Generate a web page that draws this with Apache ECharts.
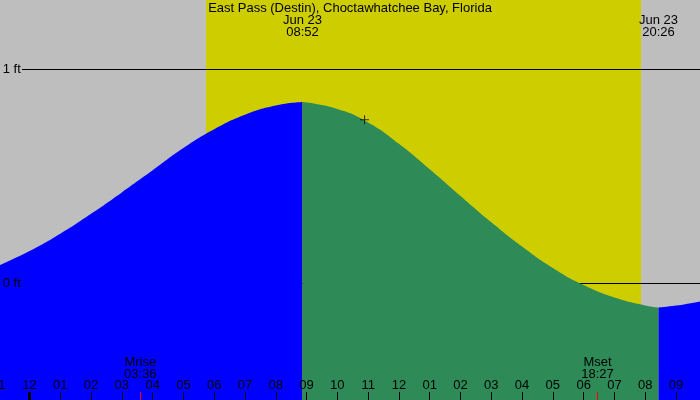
<!DOCTYPE html>
<html><head><meta charset="utf-8">
<script src="https://cdn.jsdelivr.net/npm/echarts@6/dist/echarts.min.js"></script>
<style>html,body{margin:0;padding:0;background:#bebebe}#c{width:700px;height:400px}</style>
</head><body><div id="c"></div>
<script>
// ---- data ----
const chartTitle = 'East Pass (Destin), Choctawhatchee Bay, Florida';
const dateLabel = 'Jun 23';
// hours relative to Jun 23 00:00
const tideHours   = [-1, 0, 1, 2, 3, 4, 5, 6, 7, 8, 8.867, 10, 11, 12, 13, 14, 15, 16, 17, 18, 19, 20, 20.433, 21, 22];
const tideHeights = [0.083, 0.151, 0.232, 0.325, 0.425, 0.528, 0.632, 0.720, 0.788, 0.831, 0.847, 0.815, 0.752, 0.652, 0.533, 0.408, 0.285, 0.172, 0.072, -0.008, -0.066, -0.103, -0.113, -0.104, -0.078];
const extremeClock = ['08:52', '20:26'];   // high, low
const sunClock = ['05:44', '19:52'];       // sunrise, sunset
const moonClock = ['03:36', '18:27'];      // moonrise, moonset
const moonNames = ['Mrise', 'Mset'];
const nowClock = '10:53';
const nowHeight = 0.764;
const refLevels = [0, 1];
const refUnit = 'ft';

// ---- helpers ----
const toH = s => { const [h, m] = s.split(':').map(Number); return h + m / 60; };
const FONT = 'Liberation Sans';
const X_MIN = -1, X_MAX = 21.78, Y_MIN = -0.545, Y_MAX = 1.324;
const TOL = 0.01;
const highT = toH(extremeClock[0]), lowT = toH(extremeClock[1]);
const pts = tideHours.map((t, i) => [t, tideHeights[i]]);
const rising1 = pts.filter(p => p[0] <= highT + TOL);
const falling = pts.filter(p => p[0] >= highT - TOL && p[0] <= lowT + TOL);
const rising2 = pts.filter(p => p[0] >= lowT - TOL);
const moonT = moonClock.map(toH);
const extT = extremeClock.map(toH);
const pad = n => (n < 10 ? '0' : '') + n;
const hourLabel = v => { let h = ((Math.round(v) % 12) + 12) % 12; if (h === 0) h = 12; return pad(h); };
const findIdx = (arr, v) => arr.findIndex(a => Math.abs(a - v) < 1e-3);

const txt = { color: '#000', fontFamily: FONT, fontSize: 13 };
const noLine = { show: false, onZero: false };
const hidden = { axisLine: noLine, axisTick: { show: false }, axisLabel: { show: false }, splitLine: { show: false } };

const chart = echarts.init(document.getElementById('c'), null, { renderer: 'canvas' });
chart.setOption({
  backgroundColor: '#bebebe',
  animation: false,
  title: { text: chartTitle, left: 'center', top: 2, padding: 0,
    textStyle: Object.assign({ fontWeight: 'normal', lineHeight: 13 }, txt) },
  grid: [
    { left: -1.29, right: 0, top: 0, bottom: 0, containLabel: false, outerBoundsMode: 'none' },
    { left: 22, right: 0, top: 0, bottom: 0, containLabel: false, outerBoundsMode: 'none' }
  ],
  xAxis: [
    { gridIndex: 0, type: 'value', min: X_MIN, max: X_MAX, interval: 1, position: 'bottom', z: 10,
      axisLine: noLine, splitLine: { show: false },
      axisTick: { inside: true, length: 8, lineStyle: { color: '#000', width: 1 } },
      axisLabel: Object.assign({ inside: true, margin: 8, lineHeight: 13, formatter: hourLabel, showMinLabel: true, showMaxLabel: false }, txt) },
    { gridIndex: 0, type: 'value', min: X_MIN, max: X_MAX, position: 'bottom', z: 11,
      axisLine: noLine, splitLine: { show: false }, axisLabel: { show: false },
      axisTick: { inside: true, length: 8, customValues: [0], lineStyle: { color: '#000', width: 3 } } },
    { gridIndex: 0, type: 'value', min: X_MIN, max: X_MAX, position: 'bottom', z: 11,
      axisLine: noLine, splitLine: { show: false },
      axisTick: { inside: true, length: 8, customValues: moonT, lineStyle: { color: '#ff0000', width: 1 } },
      axisLabel: Object.assign({ inside: true, margin: 20, lineHeight: 12, customValues: moonT, align: 'center',
        formatter: v => { const i = findIdx(moonT, v); return i < 0 ? '' : moonNames[i] + '\n' + moonClock[i]; } }, txt) },
    { gridIndex: 0, type: 'value', min: X_MIN, max: X_MAX, position: 'top', z: 11,
      axisLine: noLine, splitLine: { show: false }, axisTick: { show: false },
      axisLabel: Object.assign({ inside: true, margin: 14, lineHeight: 12, customValues: extT, align: 'center',
        formatter: v => { const i = findIdx(extT, v); return i < 0 ? '' : dateLabel + '\n' + extremeClock[i]; } }, txt) },
    Object.assign({ gridIndex: 1, type: 'value', min: 0, max: 1 }, hidden)
  ],
  yAxis: [
    { gridIndex: 0, type: 'value', min: Y_MIN, max: Y_MAX, z: 10,
      axisLine: noLine, axisTick: { show: false }, splitLine: { show: false },
      axisLabel: Object.assign({ inside: true, margin: 4, customValues: refLevels, formatter: v => v + ' ' + refUnit }, txt) },
    Object.assign({ gridIndex: 1, type: 'value', min: Y_MIN, max: Y_MAX }, hidden)
  ],
  series: [
    { name: 'daylight', type: 'line', xAxisIndex: 0, yAxisIndex: 0, data: [], z: 1, silent: true,
      markArea: { silent: true, z: 1, itemStyle: { color: '#cdcd00', opacity: 1 },
        data: [[{ xAxis: toH(sunClock[0]) }, { xAxis: toH(sunClock[1]) }]] } },
    { name: 'levels', type: 'line', xAxisIndex: 4, yAxisIndex: 1, data: [], z: 2, silent: true,
      markLine: { silent: true, z: 2, symbol: 'none', label: { show: false },
        lineStyle: { color: '#000', width: 1, type: 'solid' },
        data: refLevels.map(v => ({ yAxis: v })) } },
    { name: 'rising', type: 'line', xAxisIndex: 0, yAxisIndex: 0, data: rising1, smooth: true, showSymbol: false, z: 3,
      lineStyle: { width: 0 }, areaStyle: { color: '#0000ff', opacity: 1, origin: 'start' } },
    { name: 'falling', type: 'line', xAxisIndex: 0, yAxisIndex: 0, data: falling, smooth: true, showSymbol: false, z: 3,
      lineStyle: { width: 0 }, areaStyle: { color: '#2e8b57', opacity: 1, origin: 'start' } },
    { name: 'rising2', type: 'line', xAxisIndex: 0, yAxisIndex: 0, data: rising2, smooth: true, showSymbol: false, z: 3,
      lineStyle: { width: 0 }, areaStyle: { color: '#0000ff', opacity: 1, origin: 'start' } },
    { name: 'now', type: 'scatter', xAxisIndex: 0, yAxisIndex: 0, z: 5, silent: true,
      data: [[toH(nowClock), nowHeight]],
      symbol: 'path://M0,4H9V5H0Z M4,0H5V9H4Z', symbolSize: 9, itemStyle: { color: '#000' } }
  ]
});
</script>
</body></html>
